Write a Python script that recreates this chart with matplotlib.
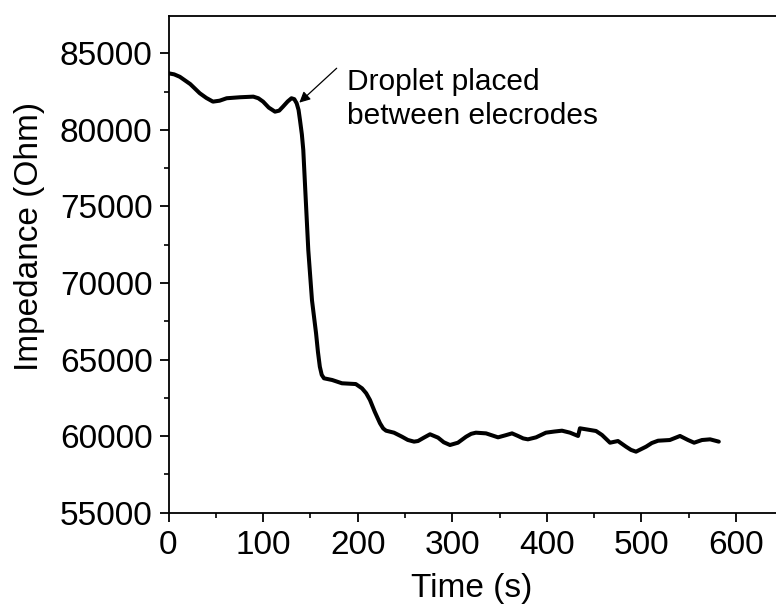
import matplotlib
matplotlib.use("Agg")
import matplotlib.pyplot as plt
from matplotlib.ticker import MultipleLocator

time_s = [0, 6, 12, 23, 33, 40, 47, 54, 61.5, 75.6, 89.7, 95, 100, 106, 112.6, 117, 121, 126,
          130, 133, 135.5, 137.5, 139, 141, 142.5, 144.5, 147.8, 151.7, 156, 158, 160, 162,
          164.4, 173, 183.4, 198, 204.6, 209, 213, 218, 223.6, 227, 230, 238.4, 246.9, 253,
          259.6, 263.8, 270, 276.5, 285, 291, 297.6, 306, 314.6, 320, 325, 335.7, 348.4,
          356, 363.2, 369.5, 375, 380, 388.6, 399, 408, 416, 424.5, 433, 435, 441.4, 452,
          458.3, 466.8, 475.2, 483.7, 489, 494.3, 504.9, 511, 517.6, 530, 540.8, 549.3,
          555.7, 564, 572.6, 581.8]
impedance = [83690, 83620, 83460, 82985, 82390, 82080, 81840, 81900, 82060, 82125, 82165,
             82060, 81840, 81450, 81185, 81250, 81510, 81850, 82060, 82000, 81730, 81300,
             80640, 79700, 78685, 76200, 72140, 68870, 66715, 65500, 64530, 64000, 63775,
             63665, 63450, 63400, 63120, 62800, 62360, 61600, 60840, 60500, 60355, 60225,
             59960, 59750, 59640, 59680, 59900, 60120, 59900, 59600, 59420, 59570, 59960,
             60150, 60225, 60180, 59920, 60050, 60180, 60010, 59850, 59790, 59920, 60225,
             60300, 60355, 60225, 60010, 60510, 60445, 60335, 60075, 59570, 59680, 59310,
             59100, 58985, 59310, 59550, 59700, 59745, 60010, 59745, 59570, 59745, 59790, 59640]

x_ticks = [0, 100, 200, 300, 400, 500, 600]
y_ticks = [55000, 60000, 65000, 70000, 75000, 80000, 85000]

plt.rcParams['font.family'] = ['Liberation Sans', 'DejaVu Sans']

fig = plt.figure(figsize=(7.76, 6.10), dpi=100)
ax = fig.add_axes([168.5 / 776, (610 - 512.7) / 610, (783.3 - 168.5) / 776, (512.7 - 15.7) / 610])

ax.plot(time_s, impedance, color='black', lw=2.9, solid_joinstyle='round', solid_capstyle='round')

ax.set_xlim(0, 650)
ax.set_ylim(55000, 87450)
ax.set_xticks(x_ticks)
ax.set_yticks(y_ticks)
ax.xaxis.set_minor_locator(MultipleLocator(50))
ax.yaxis.set_minor_locator(MultipleLocator(2500))

for s in ax.spines.values():
    s.set_linewidth(1.3)

ax.tick_params(axis='both', which='major', direction='out', length=6.5, width=1.3,
               labelsize=24, colors='black')
ax.tick_params(axis='x', which='major', pad=6)
ax.tick_params(axis='y', which='major', pad=5)
ax.tick_params(axis='both', which='minor', direction='out', length=3.5, width=1.2)

ax.set_xlabel('Time (s)', fontsize=24)
ax.set_ylabel('Impedance (Ohm)', fontsize=24)
ax.xaxis.label.set_va('center')
ax.yaxis.label.set_va('center')
ax.xaxis.set_label_coords(0.5 - 4 / 614.8, (512.7 - 588) / 497.0)
ax.yaxis.set_label_coords((30 - 168.5) / 614.8, (512.7 - 236) / 497.0)

ax.annotate('', xy=(138.3, 81773), xytext=(177.8, 84020),
            arrowprops=dict(arrowstyle='-|>', color='black', lw=0.9,
                            mutation_scale=16, shrinkA=0, shrinkB=0))
ax.text(188.7, 82015, 'Droplet placed\nbetween elecrodes', fontsize=21.5,
        ha='left', va='center', linespacing=1.25)

fig.savefig('out.png', dpi=100)
